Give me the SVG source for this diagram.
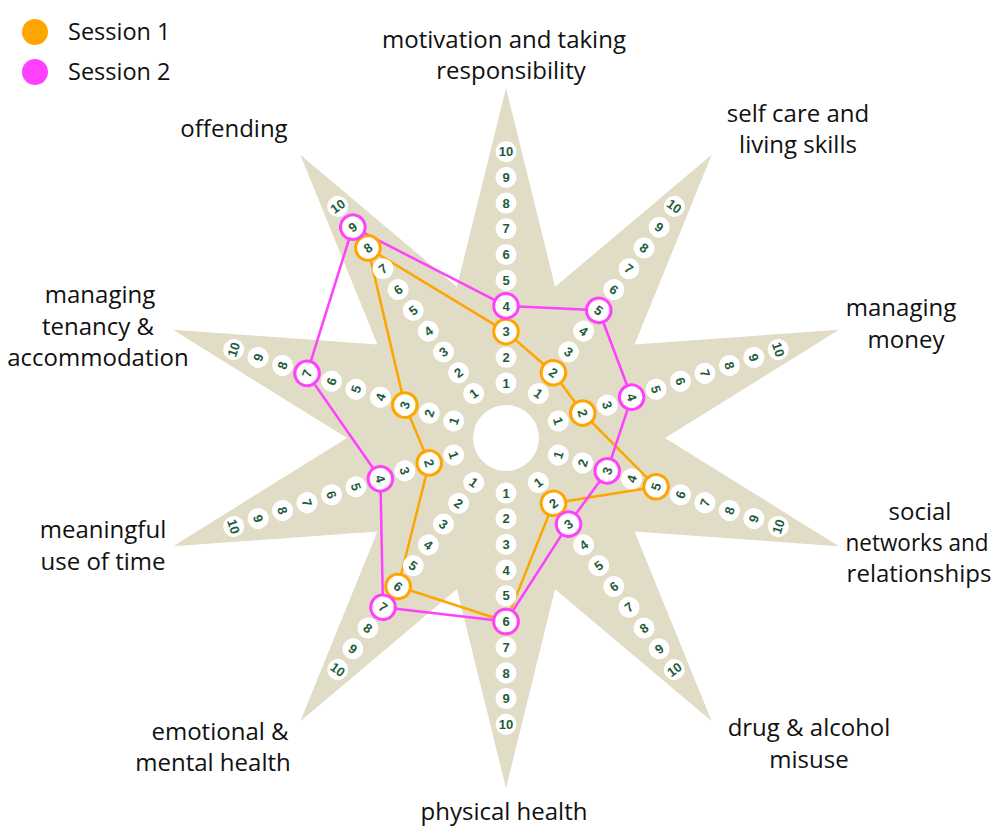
<svg xmlns="http://www.w3.org/2000/svg" width="998" height="826" viewBox="0 0 998 826">
<style>
.lbl{font-family:"Open Sans","Noto Sans",sans-serif;font-size:24px;fill:#111;text-anchor:middle}
.leg{font-family:"Open Sans","Noto Sans",sans-serif;font-size:23.5px;fill:#111}
.dot{fill:#fff}
.num{font-family:"Liberation Sans",Arial,sans-serif;font-size:13px;font-weight:bold;fill:#1d5c3a;text-anchor:middle}
.s1{fill:#fff;stroke:#ffa500;stroke-width:3}
.s2{fill:#fff;stroke:#ff40ff;stroke-width:3}
.l1{fill:none;stroke:#ffa500;stroke-width:2.5;stroke-linejoin:round}
.l2{fill:none;stroke:#ff40ff;stroke-width:2.5;stroke-linejoin:round}
</style>
<rect width="998" height="826" fill="#fff"/>
<g id="legend">
<circle cx="35" cy="32" r="13" fill="#ffa500"/>
<text class="leg" x="68" y="40">Session 1</text>
<circle cx="35" cy="72" r="13" fill="#ff40ff"/>
<text class="leg" x="68" y="80">Session 2</text>
</g>
<g id="star">
<polygon fill="#e0dcc5" points="506,88 555.1,286.8 711.7,154.8 634.6,344.5 838.9,329.8 665,438 838.9,546.2 634.6,531.5 711.7,721.2 555.1,589.2 506,788 456.9,589.2 300.3,721.2 377.4,531.5 173.1,546.2 347,438 173.1,329.8 377.4,344.5 300.3,154.8 456.9,286.8"/>
<circle cx="506" cy="438" r="33" fill="#fff"/>
</g>
<g id="connectors">
<polyline class="l1" points="506,331.6 553.4,372.7 582.8,413.1 656.1,486.8 553.4,503.3 506,621.5 398.1,586.5 429.2,462.9 404.8,405.1 367.9,248 506,331.6"/>
<polyline class="l2" points="506,305.9 598.8,310.3 631.6,397.2 607.2,470.9 568.5,524.1 506,621.5 383,607.2 380.4,478.8 307,373.4 352.8,227.2 506,305.9"/>
</g>
<g id="spoke-motivation" transform="translate(506 438)">
<circle class="dot" cy="-55" r="10.5"/><circle class="dot" cy="-80.7" r="10.5"/><circle class="dot" cy="-106.4" r="10.5"/><circle class="dot" cy="-132.1" r="10.5"/><circle class="dot" cy="-157.8" r="10.5"/><circle class="dot" cy="-183.5" r="10.5"/><circle class="dot" cy="-209.2" r="10.5"/><circle class="dot" cy="-234.9" r="10.5"/><circle class="dot" cy="-260.6" r="10.5"/><circle class="dot" cy="-286.3" r="10.5"/>
<circle class="s1" cy="-106.4" r="12.3"/><circle class="s2" cy="-132.1" r="12.3"/>
<text class="num" transform="translate(0 -55)" y="4.6">1</text><text class="num" transform="translate(0 -80.7)" y="4.6">2</text><text class="num" transform="translate(0 -106.4)" y="4.6">3</text><text class="num" transform="translate(0 -132.1)" y="4.6">4</text><text class="num" transform="translate(0 -157.8)" y="4.6">5</text><text class="num" transform="translate(0 -183.5)" y="4.6">6</text><text class="num" transform="translate(0 -209.2)" y="4.6">7</text><text class="num" transform="translate(0 -234.9)" y="4.6">8</text><text class="num" transform="translate(0 -260.6)" y="4.6">9</text><text class="num" transform="translate(0 -286.3)" y="4.6">10</text>
</g>
<g id="spoke-selfcare" transform="translate(506 438) rotate(36)">
<circle class="dot" cy="-55" r="10.5"/><circle class="dot" cy="-80.7" r="10.5"/><circle class="dot" cy="-106.4" r="10.5"/><circle class="dot" cy="-132.1" r="10.5"/><circle class="dot" cy="-157.8" r="10.5"/><circle class="dot" cy="-183.5" r="10.5"/><circle class="dot" cy="-209.2" r="10.5"/><circle class="dot" cy="-234.9" r="10.5"/><circle class="dot" cy="-260.6" r="10.5"/><circle class="dot" cy="-286.3" r="10.5"/>
<circle class="s1" cy="-80.7" r="12.3"/><circle class="s2" cy="-157.8" r="12.3"/>
<text class="num" transform="translate(0 -55)" y="4.6">1</text><text class="num" transform="translate(0 -80.7)" y="4.6">2</text><text class="num" transform="translate(0 -106.4)" y="4.6">3</text><text class="num" transform="translate(0 -132.1)" y="4.6">4</text><text class="num" transform="translate(0 -157.8)" y="4.6">5</text><text class="num" transform="translate(0 -183.5)" y="4.6">6</text><text class="num" transform="translate(0 -209.2)" y="4.6">7</text><text class="num" transform="translate(0 -234.9)" y="4.6">8</text><text class="num" transform="translate(0 -260.6)" y="4.6">9</text><text class="num" transform="translate(0 -286.3)" y="4.6">10</text>
</g>
<g id="spoke-money" transform="translate(506 438) rotate(72)">
<circle class="dot" cy="-55" r="10.5"/><circle class="dot" cy="-80.7" r="10.5"/><circle class="dot" cy="-106.4" r="10.5"/><circle class="dot" cy="-132.1" r="10.5"/><circle class="dot" cy="-157.8" r="10.5"/><circle class="dot" cy="-183.5" r="10.5"/><circle class="dot" cy="-209.2" r="10.5"/><circle class="dot" cy="-234.9" r="10.5"/><circle class="dot" cy="-260.6" r="10.5"/><circle class="dot" cy="-286.3" r="10.5"/>
<circle class="s1" cy="-80.7" r="12.3"/><circle class="s2" cy="-132.1" r="12.3"/>
<text class="num" transform="translate(0 -55)" y="4.6">1</text><text class="num" transform="translate(0 -80.7)" y="4.6">2</text><text class="num" transform="translate(0 -106.4)" y="4.6">3</text><text class="num" transform="translate(0 -132.1)" y="4.6">4</text><text class="num" transform="translate(0 -157.8)" y="4.6">5</text><text class="num" transform="translate(0 -183.5)" y="4.6">6</text><text class="num" transform="translate(0 -209.2)" y="4.6">7</text><text class="num" transform="translate(0 -234.9)" y="4.6">8</text><text class="num" transform="translate(0 -260.6)" y="4.6">9</text><text class="num" transform="translate(0 -286.3)" y="4.6">10</text>
</g>
<g id="spoke-social" transform="translate(506 438) rotate(108)">
<circle class="dot" cy="-55" r="10.5"/><circle class="dot" cy="-80.7" r="10.5"/><circle class="dot" cy="-106.4" r="10.5"/><circle class="dot" cy="-132.1" r="10.5"/><circle class="dot" cy="-157.8" r="10.5"/><circle class="dot" cy="-183.5" r="10.5"/><circle class="dot" cy="-209.2" r="10.5"/><circle class="dot" cy="-234.9" r="10.5"/><circle class="dot" cy="-260.6" r="10.5"/><circle class="dot" cy="-286.3" r="10.5"/>
<circle class="s1" cy="-157.8" r="12.3"/><circle class="s2" cy="-106.4" r="12.3"/>
<text class="num" transform="translate(0 -55) rotate(180)" y="4.6">1</text><text class="num" transform="translate(0 -80.7) rotate(180)" y="4.6">2</text><text class="num" transform="translate(0 -106.4) rotate(180)" y="4.6">3</text><text class="num" transform="translate(0 -132.1) rotate(180)" y="4.6">4</text><text class="num" transform="translate(0 -157.8) rotate(180)" y="4.6">5</text><text class="num" transform="translate(0 -183.5) rotate(180)" y="4.6">6</text><text class="num" transform="translate(0 -209.2) rotate(180)" y="4.6">7</text><text class="num" transform="translate(0 -234.9) rotate(180)" y="4.6">8</text><text class="num" transform="translate(0 -260.6) rotate(180)" y="4.6">9</text><text class="num" transform="translate(0 -286.3) rotate(180)" y="4.6">10</text>
</g>
<g id="spoke-drug" transform="translate(506 438) rotate(144)">
<circle class="dot" cy="-55" r="10.5"/><circle class="dot" cy="-80.7" r="10.5"/><circle class="dot" cy="-106.4" r="10.5"/><circle class="dot" cy="-132.1" r="10.5"/><circle class="dot" cy="-157.8" r="10.5"/><circle class="dot" cy="-183.5" r="10.5"/><circle class="dot" cy="-209.2" r="10.5"/><circle class="dot" cy="-234.9" r="10.5"/><circle class="dot" cy="-260.6" r="10.5"/><circle class="dot" cy="-286.3" r="10.5"/>
<circle class="s1" cy="-80.7" r="12.3"/><circle class="s2" cy="-106.4" r="12.3"/>
<text class="num" transform="translate(0 -55) rotate(180)" y="4.6">1</text><text class="num" transform="translate(0 -80.7) rotate(180)" y="4.6">2</text><text class="num" transform="translate(0 -106.4) rotate(180)" y="4.6">3</text><text class="num" transform="translate(0 -132.1) rotate(180)" y="4.6">4</text><text class="num" transform="translate(0 -157.8) rotate(180)" y="4.6">5</text><text class="num" transform="translate(0 -183.5) rotate(180)" y="4.6">6</text><text class="num" transform="translate(0 -209.2) rotate(180)" y="4.6">7</text><text class="num" transform="translate(0 -234.9) rotate(180)" y="4.6">8</text><text class="num" transform="translate(0 -260.6) rotate(180)" y="4.6">9</text><text class="num" transform="translate(0 -286.3) rotate(180)" y="4.6">10</text>
</g>
<g id="spoke-physical" transform="translate(506 438) rotate(180)">
<circle class="dot" cy="-55" r="10.5"/><circle class="dot" cy="-80.7" r="10.5"/><circle class="dot" cy="-106.4" r="10.5"/><circle class="dot" cy="-132.1" r="10.5"/><circle class="dot" cy="-157.8" r="10.5"/><circle class="dot" cy="-183.5" r="10.5"/><circle class="dot" cy="-209.2" r="10.5"/><circle class="dot" cy="-234.9" r="10.5"/><circle class="dot" cy="-260.6" r="10.5"/><circle class="dot" cy="-286.3" r="10.5"/>
<circle class="s1" cy="-183.5" r="12.3"/><circle class="s2" cy="-183.5" r="12.3"/>
<text class="num" transform="translate(0 -55) rotate(180)" y="4.6">1</text><text class="num" transform="translate(0 -80.7) rotate(180)" y="4.6">2</text><text class="num" transform="translate(0 -106.4) rotate(180)" y="4.6">3</text><text class="num" transform="translate(0 -132.1) rotate(180)" y="4.6">4</text><text class="num" transform="translate(0 -157.8) rotate(180)" y="4.6">5</text><text class="num" transform="translate(0 -183.5) rotate(180)" y="4.6">6</text><text class="num" transform="translate(0 -209.2) rotate(180)" y="4.6">7</text><text class="num" transform="translate(0 -234.9) rotate(180)" y="4.6">8</text><text class="num" transform="translate(0 -260.6) rotate(180)" y="4.6">9</text><text class="num" transform="translate(0 -286.3) rotate(180)" y="4.6">10</text>
</g>
<g id="spoke-emotional" transform="translate(506 438) rotate(216)">
<circle class="dot" cy="-55" r="10.5"/><circle class="dot" cy="-80.7" r="10.5"/><circle class="dot" cy="-106.4" r="10.5"/><circle class="dot" cy="-132.1" r="10.5"/><circle class="dot" cy="-157.8" r="10.5"/><circle class="dot" cy="-183.5" r="10.5"/><circle class="dot" cy="-209.2" r="10.5"/><circle class="dot" cy="-234.9" r="10.5"/><circle class="dot" cy="-260.6" r="10.5"/><circle class="dot" cy="-286.3" r="10.5"/>
<circle class="s1" cy="-183.5" r="12.3"/><circle class="s2" cy="-209.2" r="12.3"/>
<text class="num" transform="translate(0 -55) rotate(180)" y="4.6">1</text><text class="num" transform="translate(0 -80.7) rotate(180)" y="4.6">2</text><text class="num" transform="translate(0 -106.4) rotate(180)" y="4.6">3</text><text class="num" transform="translate(0 -132.1) rotate(180)" y="4.6">4</text><text class="num" transform="translate(0 -157.8) rotate(180)" y="4.6">5</text><text class="num" transform="translate(0 -183.5) rotate(180)" y="4.6">6</text><text class="num" transform="translate(0 -209.2) rotate(180)" y="4.6">7</text><text class="num" transform="translate(0 -234.9) rotate(180)" y="4.6">8</text><text class="num" transform="translate(0 -260.6) rotate(180)" y="4.6">9</text><text class="num" transform="translate(0 -286.3) rotate(180)" y="4.6">10</text>
</g>
<g id="spoke-meaningful" transform="translate(506 438) rotate(252)">
<circle class="dot" cy="-55" r="10.5"/><circle class="dot" cy="-80.7" r="10.5"/><circle class="dot" cy="-106.4" r="10.5"/><circle class="dot" cy="-132.1" r="10.5"/><circle class="dot" cy="-157.8" r="10.5"/><circle class="dot" cy="-183.5" r="10.5"/><circle class="dot" cy="-209.2" r="10.5"/><circle class="dot" cy="-234.9" r="10.5"/><circle class="dot" cy="-260.6" r="10.5"/><circle class="dot" cy="-286.3" r="10.5"/>
<circle class="s1" cy="-80.7" r="12.3"/><circle class="s2" cy="-132.1" r="12.3"/>
<text class="num" transform="translate(0 -55) rotate(180)" y="4.6">1</text><text class="num" transform="translate(0 -80.7) rotate(180)" y="4.6">2</text><text class="num" transform="translate(0 -106.4) rotate(180)" y="4.6">3</text><text class="num" transform="translate(0 -132.1) rotate(180)" y="4.6">4</text><text class="num" transform="translate(0 -157.8) rotate(180)" y="4.6">5</text><text class="num" transform="translate(0 -183.5) rotate(180)" y="4.6">6</text><text class="num" transform="translate(0 -209.2) rotate(180)" y="4.6">7</text><text class="num" transform="translate(0 -234.9) rotate(180)" y="4.6">8</text><text class="num" transform="translate(0 -260.6) rotate(180)" y="4.6">9</text><text class="num" transform="translate(0 -286.3) rotate(180)" y="4.6">10</text>
</g>
<g id="spoke-tenancy" transform="translate(506 438) rotate(288)">
<circle class="dot" cy="-55" r="10.5"/><circle class="dot" cy="-80.7" r="10.5"/><circle class="dot" cy="-106.4" r="10.5"/><circle class="dot" cy="-132.1" r="10.5"/><circle class="dot" cy="-157.8" r="10.5"/><circle class="dot" cy="-183.5" r="10.5"/><circle class="dot" cy="-209.2" r="10.5"/><circle class="dot" cy="-234.9" r="10.5"/><circle class="dot" cy="-260.6" r="10.5"/><circle class="dot" cy="-286.3" r="10.5"/>
<circle class="s1" cy="-106.4" r="12.3"/><circle class="s2" cy="-209.2" r="12.3"/>
<text class="num" transform="translate(0 -55)" y="4.6">1</text><text class="num" transform="translate(0 -80.7)" y="4.6">2</text><text class="num" transform="translate(0 -106.4)" y="4.6">3</text><text class="num" transform="translate(0 -132.1)" y="4.6">4</text><text class="num" transform="translate(0 -157.8)" y="4.6">5</text><text class="num" transform="translate(0 -183.5)" y="4.6">6</text><text class="num" transform="translate(0 -209.2)" y="4.6">7</text><text class="num" transform="translate(0 -234.9)" y="4.6">8</text><text class="num" transform="translate(0 -260.6)" y="4.6">9</text><text class="num" transform="translate(0 -286.3)" y="4.6">10</text>
</g>
<g id="spoke-offending" transform="translate(506 438) rotate(324)">
<circle class="dot" cy="-55" r="10.5"/><circle class="dot" cy="-80.7" r="10.5"/><circle class="dot" cy="-106.4" r="10.5"/><circle class="dot" cy="-132.1" r="10.5"/><circle class="dot" cy="-157.8" r="10.5"/><circle class="dot" cy="-183.5" r="10.5"/><circle class="dot" cy="-209.2" r="10.5"/><circle class="dot" cy="-234.9" r="10.5"/><circle class="dot" cy="-260.6" r="10.5"/><circle class="dot" cy="-286.3" r="10.5"/>
<circle class="s1" cy="-234.9" r="12.3"/><circle class="s2" cy="-260.6" r="12.3"/>
<text class="num" transform="translate(0 -55)" y="4.6">1</text><text class="num" transform="translate(0 -80.7)" y="4.6">2</text><text class="num" transform="translate(0 -106.4)" y="4.6">3</text><text class="num" transform="translate(0 -132.1)" y="4.6">4</text><text class="num" transform="translate(0 -157.8)" y="4.6">5</text><text class="num" transform="translate(0 -183.5)" y="4.6">6</text><text class="num" transform="translate(0 -209.2)" y="4.6">7</text><text class="num" transform="translate(0 -234.9)" y="4.6">8</text><text class="num" transform="translate(0 -260.6)" y="4.6">9</text><text class="num" transform="translate(0 -286.3)" y="4.6">10</text>
</g>
<g id="label-motivation"><text class="lbl" x="504" y="48">motivation and taking</text><text class="lbl" x="511" y="79">responsibility</text></g>
<g id="label-selfcare"><text class="lbl" x="798" y="122">self care and</text><text class="lbl" x="798" y="153">living skills</text></g>
<g id="label-money"><text class="lbl" x="901" y="316">managing</text><text class="lbl" x="906" y="348">money</text></g>
<g id="label-social"><text class="lbl" x="920" y="520">social</text><text class="lbl" x="917" y="551" textLength="143" lengthAdjust="spacingAndGlyphs">networks and</text><text class="lbl" x="919" y="582">relationships</text></g>
<g id="label-drug"><text class="lbl" x="809" y="736">drug &amp; alcohol</text><text class="lbl" x="809" y="768">misuse</text></g>
<g id="label-physical"><text class="lbl" x="504" y="820">physical health</text></g>
<g id="label-emotional"><text class="lbl" x="220" y="740">emotional &amp;</text><text class="lbl" x="213" y="771">mental health</text></g>
<g id="label-meaningful"><text class="lbl" x="103" y="538">meaningful</text><text class="lbl" x="103" y="570">use of time</text></g>
<g id="label-tenancy"><text class="lbl" x="100" y="303">managing</text><text class="lbl" x="98" y="335">tenancy &amp;</text><text class="lbl" x="98" y="366">accommodation</text></g>
<g id="label-offending"><text class="lbl" x="234" y="137">offending</text></g>
</svg>
